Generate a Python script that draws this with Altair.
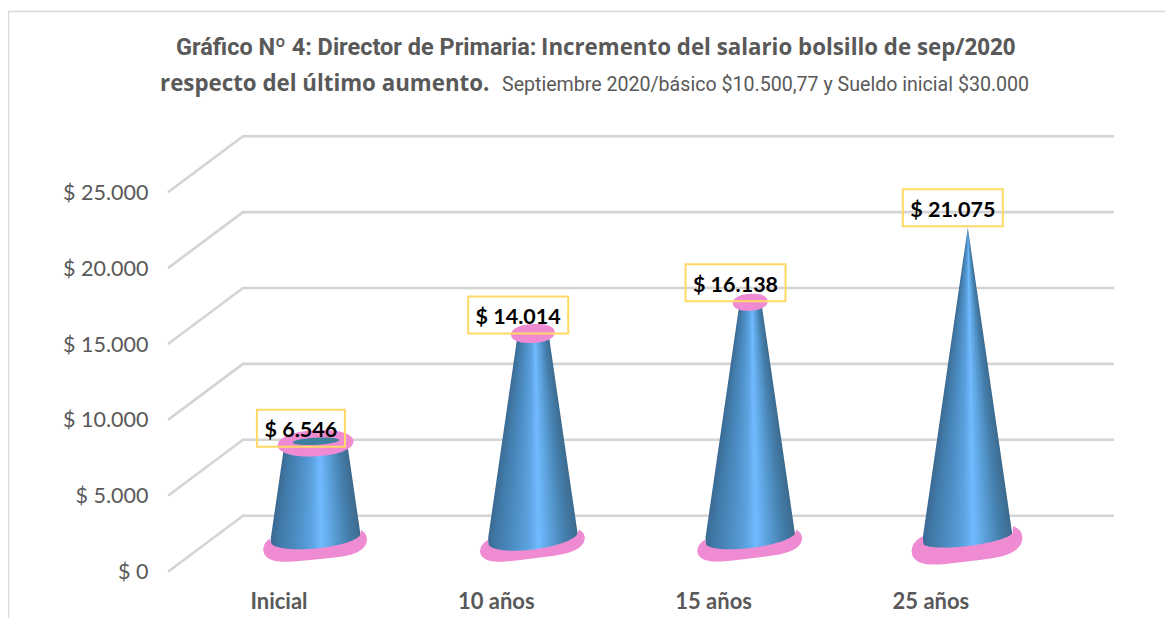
import altair as alt
import pandas as pd

# ---- values
CATEGORIES = ["Inicial", "10 años", "15 años", "25 años"]
VALUES = [6546, 14014, 16138, 21075]
TICKS = [0, 5000, 10000, 15000, 20000, 25000]

GRID = "#d4d4d4"
TEXT = "#595959"
PINK = "#ee8bd3"
BOX = "#ffd966"

# ---- picture geometry helpers (pixels <-> data units)
PX_LEFT, PX_RIGHT, PX_TOP, PX_BOTTOM = 150, 1165, 8, 590
STEP = 217.3
X0 = 278.5
Y0 = 571.7
YK = 0.01518


def ux(px):
    return (px - X0) / STEP


def uy(py):
    return (Y0 - py) / YK


xs = alt.Scale(domain=[ux(PX_LEFT), ux(PX_RIGHT)], nice=False, zero=False)
ys = alt.Scale(domain=[uy(PX_BOTTOM), uy(PX_TOP)], nice=False, zero=False)

x_axis = alt.Axis(
    values=[0, 1, 2, 3], domain=False, ticks=False, grid=False, labelPadding=1,
    labelExpr="['" + "','".join(CATEGORIES) + "'][datum.value]",
    labelFont="Lato", labelFontWeight="bold", labelFontSize=22, labelColor=TEXT,
    labelOverlap=False, labelFlush=False, title=None)
y_axis = alt.Axis(
    values=TICKS, domain=False, ticks=False, grid=False, labelPadding=2, labelOffset=1,
    labelExpr="'$ ' + replace(format(datum.value, ',d'), ',', '.')",
    labelFont="Lato", labelFontSize=21.5, labelColor=TEXT, labelOverlap=False, labelFlush=False, title=None)


def X(field="x"):
    return alt.X(f"{field}:Q", scale=xs, axis=x_axis, title=None)


def Y(field="y"):
    return alt.Y(f"{field}:Q", scale=ys, axis=y_axis, title=None)


# depth planes
FRONT_X, BACK_X, END_X, DEPTH_Y = 168, 243, 1114, 56
CONE_DX = 37.4      # cone axis relative to the category label
BASE_Y = 537.5      # centre of the cone foot
CONE_K = 0.0147     # vertical pixels per peso at the cone's depth
BASE_R = 45
VMAX = max(VALUES)

TILT = [0.097, 0.125, 0.12, 0.12]
FOOT_B = [11, 12, 10.5, 8.5]
RING_A = [52, 52.5, 52.5, 55.5]
RING_B = [15, 14, 14, 17]
TOP_B = [13, 9.5, 8.5]

STOPS = [0, 0.1, 0.28, 0.46, 0.56, 0.68, 0.85, 1]
SHADES = ["#3b6a93", "#417aa8", "#4c8dc4", "#5da4e2", "#70baff", "#5da3de", "#4580ae", "#3c6a8e"]


def cone_x(i):
    return X0 + STEP * i + CONE_DX


def top_py(v):
    return BASE_Y - CONE_K * v


def foot_arc(i, s):
    return BASE_Y - TILT[i] * BASE_R * s + FOOT_B[i] * max(0.0, 1 - s * s) ** 0.5


def ring_edge(i, px):
    """Centre line and half height of the pink foot at pixel column px."""
    s = (px - (cone_x(i) - 0.8)) / RING_A[i]
    half = RING_B[i] * max(0.0, 1 - abs(s) ** 4.5) ** 0.5
    mid = BASE_Y + 7 - TILT[i] * RING_A[i] * s
    return mid, half


# gridlines
grid_rows = []
for t in TICKS:
    py = Y0 - YK * t
    grid_rows += [
        dict(t=t, x=ux(FRONT_X), y=t),
        dict(t=t, x=ux(BACK_X), y=uy(py - DEPTH_Y)),
        dict(t=t, x=ux(END_X), y=uy(py - DEPTH_Y)),
    ]


def ellipse(cx, cy, a, b, tilt, key, power=2.0, n=60):
    rows = []
    for k in range(n + 1):
        s = -1 + 2 * k / n
        half = b * max(0.0, 1 - abs(s) ** power) ** 0.5
        mid = cy - tilt * a * s
        rows.append(dict(key=key, x=ux(cx + a * s), y=uy(mid + half), y2=uy(mid - half)))
    return rows


def foot_ring(i):
    """Pink foot: its upper edge follows the cone's foot where the cone stands on it."""
    cx = cone_x(i)
    rows = []
    n = 120
    for k in range(n + 1):
        px = cx - 0.8 - RING_A[i] + 2 * RING_A[i] * k / n
        mid, half = ring_edge(i, px)
        top = mid - half
        c = (px - cx) / BASE_R
        if abs(c) <= 1:
            top = foot_arc(i, c)
        rows.append(dict(key=i, x=ux(px), y=uy(mid + half), y2=uy(top)))
    return rows


ring_rows, top_rows, inner_rows, slice_rows = [], [], [], []
for i, v in enumerate(VALUES):
    cx = cone_x(i)
    ring_rows += foot_ring(i)
    r_top = BASE_R * (1 - v / VMAX)
    tp = top_py(v)
    if r_top > 0:
        top_rows += ellipse(cx - 0.3, tp + 2, r_top + 7, TOP_B[i], 0.05, i, power=2.3)
    if i == 0:
        inner_rows += ellipse(cx, tp, r_top * 0.75, 3.6, 0.05, i)
    # the cone is a stack of one-pixel slices, each shaded from edge to edge
    low = int(BASE_Y + FOOT_B[i] + 3)
    for py in range(int(tp), low):
        frac = min(1.0, (py + 0.5 - tp) / (BASE_Y - tp))
        r = r_top + (BASE_R - r_top) * frac
        left, right = cx - r, cx + r
        # below the foot line a slice must stay hidden by the pink ring
        while right > left:
            mid, half = ring_edge(i, right)
            if py + 1 <= mid + half - 0.5:
                break
            right -= 0.5
        while left < right:
            mid, half = ring_edge(i, left)
            if py + 1 <= mid + half - 0.5:
                break
            left += 0.5
        if right > left:
            slice_rows.append(dict(x=ux(left), x2=ux(right), y=uy(py + 1), y2=uy(py)))

# labels and their boxes
label_rows = []
for i, v in enumerate(VALUES):
    text = f"$ {v:,}".replace(",", ".")
    half_w = 44 if v < 10000 else 50
    cpx = cone_x(i) - 15
    cpy = Y0 - YK * v - 44
    label_rows.append(dict(text=text, x=ux(cpx), y=uy(cpy + 3),
                           x1=ux(cpx - half_w), x2=ux(cpx + half_w),
                           y1=uy(cpy + 18.5), y2=uy(cpy - 18.5)))

axes = alt.Chart(pd.DataFrame({"x": [0, 1, 2, 3], "y": TICKS[:4]})).mark_point(opacity=0).encode(x=X(), y=Y())

grid = alt.Chart(pd.DataFrame(grid_rows)).mark_line(color=GRID, strokeWidth=2.6).encode(
    x=X(), y=Y(), detail="t:N", order=alt.Order("x:Q"))

gradient = alt.LinearGradient(
    gradient="linear", x1=0, x2=1, y1=0, y2=0,
    stops=[alt.GradientStop(offset=o, color=c) for o, c in zip(STOPS, SHADES)])

cones = alt.Chart(pd.DataFrame(slice_rows)).mark_rect(color=gradient).encode(
    x=X(), x2="x2:Q", y=Y(), y2="y2:Q")

rings = alt.Chart(pd.DataFrame(ring_rows)).mark_area(color=PINK, orient="vertical").encode(
    x=X(), y=Y(), y2="y2:Q", detail="key:N")

tops = alt.Chart(pd.DataFrame(top_rows)).mark_area(color=PINK, orient="vertical").encode(
    x=X(), y=Y(), y2="y2:Q", detail="key:N")

inner = alt.Chart(pd.DataFrame(inner_rows)).mark_area(color="#3f7f9e", orient="vertical").encode(
    x=X(), y=Y(), y2="y2:Q", detail="key:N")

boxes = alt.Chart(pd.DataFrame(label_rows)).mark_rect(
    fillOpacity=0, fill="white", stroke=BOX, strokeWidth=2).encode(
    x=X("x1"), x2="x2:Q", y=Y("y1"), y2="y2:Q")

labels = alt.Chart(pd.DataFrame(label_rows)).mark_text(
    font="Lato", fontWeight="bold", fontSize=21.5, color="black", baseline="middle").encode(
    x=X(), y=Y(), text="text:N")

# frame
frame_top = alt.Chart(pd.DataFrame({"a": [0]})).mark_rule(color="#d9d9d9", strokeWidth=1.5).encode(
    x=alt.value(8 - PX_LEFT), x2=alt.value(PX_RIGHT - PX_LEFT), y=alt.value(11.5 - PX_TOP))
frame_left = alt.Chart(pd.DataFrame({"a": [0]})).mark_rule(color="#d9d9d9", strokeWidth=1.5).encode(
    x=alt.value(8.5 - PX_LEFT), y=alt.value(11.5 - PX_TOP), y2=alt.value(610))

# title runs
RUNS = [
    ("Gráfico Nº 4: Director de Primaria:", 176, 55, "Roboto", "bold", 23.5),
    ("Incremento del salario bolsillo de sep/2020", 541, 55, "Open Sans", "bold", 22.3),
    ("respecto del último aumento.", 160, 91, "Open Sans", "bold", 22.3),
    ("Septiembre 2020/básico $10.500,77 y Sueldo inicial $30.000", 502, 91, "Roboto", "normal", 19.6),
]
title_layers = [
    alt.Chart(pd.DataFrame({"t": [r[0]]})).mark_text(
        align="left", baseline="alphabetic", font=r[3], fontWeight=r[4], fontSize=r[5], color=TEXT
    ).encode(text="t:N", x=alt.value(r[1] - PX_LEFT), y=alt.value(r[2] - PX_TOP))
    for r in RUNS
]

chart = alt.layer(frame_top, frame_left, grid, axes, cones, rings, tops, inner, boxes, labels, *title_layers).properties(
    width=PX_RIGHT - PX_LEFT,
    height=PX_BOTTOM - PX_TOP,
    padding={"left": PX_LEFT - 8, "top": PX_TOP - 8, "right": 0, "bottom": 28},
    autosize=alt.AutoSizeParams(type="none"),
    background="white",
).configure_view(stroke=None)

chart.save("out.html", embed_options={"renderer": "svg", "actions": False})
